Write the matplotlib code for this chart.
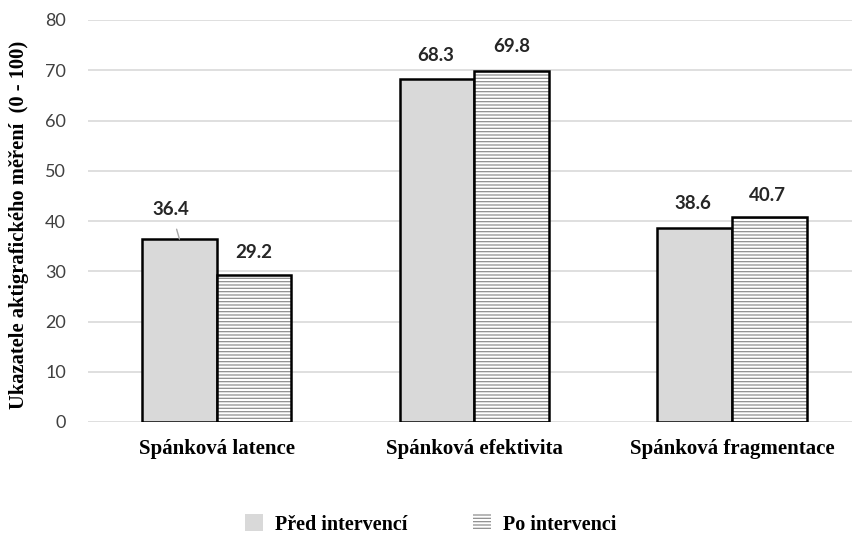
import matplotlib
matplotlib.use("Agg")
import matplotlib.pyplot as plt
from matplotlib.patches import Patch
import numpy as np

categories = ["Spánková latence", "Spánková efektivita", "Spánková fragmentace"]
series_names = ["Před intervencí", "Po intervenci"]
before = [36.4, 68.3, 38.6]
after = [29.2, 69.8, 40.7]
y_label = "Ukazatele aktigrafického měření  (0 - 100)"

HATCH_GREY = "#8f8f8f"
plt.rcParams["hatch.linewidth"] = 0.9

fig = plt.figure(figsize=(8.53, 5.35), dpi=100)
ax = fig.add_axes([88 / 853, 113 / 535, 765 / 853, 402 / 535])

x = np.arange(len(categories))
w = 0.29
b1 = ax.bar(x - w / 2, before, w, color="#d9d9d9", edgecolor="black", linewidth=1.8, zorder=3)
# hatched fill first, then a black outline on top of it
ax.bar(x + w / 2, after, w, color="white", edgecolor=HATCH_GREY, linewidth=0,
       hatch="-----", zorder=3)
b2 = ax.bar(x + w / 2, after, w, fill=False, edgecolor="black", linewidth=1.8, zorder=4)

ax.set_xlim(-0.5, 2.47)
ax.set_ylim(0, 80)
ax.set_yticks(range(0, 81, 10))
ax.grid(axis="y", color="#d9d9d9", linewidth=1.2, zorder=0)
for s in ax.spines.values():
    s.set_visible(False)
ax.tick_params(length=0)
ax.tick_params(axis="y", pad=16, labelsize=13, labelcolor="#404040")
for t in ax.get_yticklabels():
    t.set_family("Lato")

ax.set_xticks(x)
ax.set_xticklabels(categories, family="Liberation Serif", fontweight="bold", fontsize=15)
ax.tick_params(axis="x", pad=12)

ax.set_ylabel(y_label, family="Liberation Serif", fontweight="bold", fontsize=14.8)
ax.yaxis.set_label_coords((29 - 88) / 765, (422 - 225) / 402)

# value labels (first one sits off to the left with a short leader line)
label_font = dict(family="Lato", fontweight="bold", fontsize=13.5, color="#262626",
                  ha="center", va="center")
offsets_before = [(-6, 21), (-1, 17), (-1, 18)]
offsets_after = [(0, 16.5), (0, 18), (-1, 15.5)]
for i, rect in enumerate(b1):
    cx = rect.get_x() + rect.get_width() / 2
    if i == 0:
        ax.annotate(f"{before[i]}", (cx, before[i]), xytext=offsets_before[i],
                    textcoords="offset points",
                    arrowprops=dict(arrowstyle="-", color="#a6a6a6", lw=1,
                                    shrinkA=6, shrinkB=0),
                    **label_font)
    else:
        ax.annotate(f"{before[i]}", (cx, before[i]), xytext=offsets_before[i],
                    textcoords="offset points", **label_font)
for i, rect in enumerate(b2):
    cx = rect.get_x() + rect.get_width() / 2
    ax.annotate(f"{after[i]}", (cx, after[i]), xytext=offsets_after[i],
                textcoords="offset points", **label_font)

handles = [Patch(facecolor="#d9d9d9", edgecolor="none", label=series_names[0]),
           Patch(facecolor="white", edgecolor=HATCH_GREY, linewidth=0, hatch="-----",
                 label=series_names[1])]
fig.legend(handles=handles, loc="center", bbox_to_anchor=(0.505, 0.02), ncol=2,
           frameon=False, handlelength=0.85, handleheight=0.95, handletextpad=0.6,
           columnspacing=3.3, prop=dict(family="Liberation Serif", weight="bold", size=14.5))

fig.savefig("out.png", dpi=100)
